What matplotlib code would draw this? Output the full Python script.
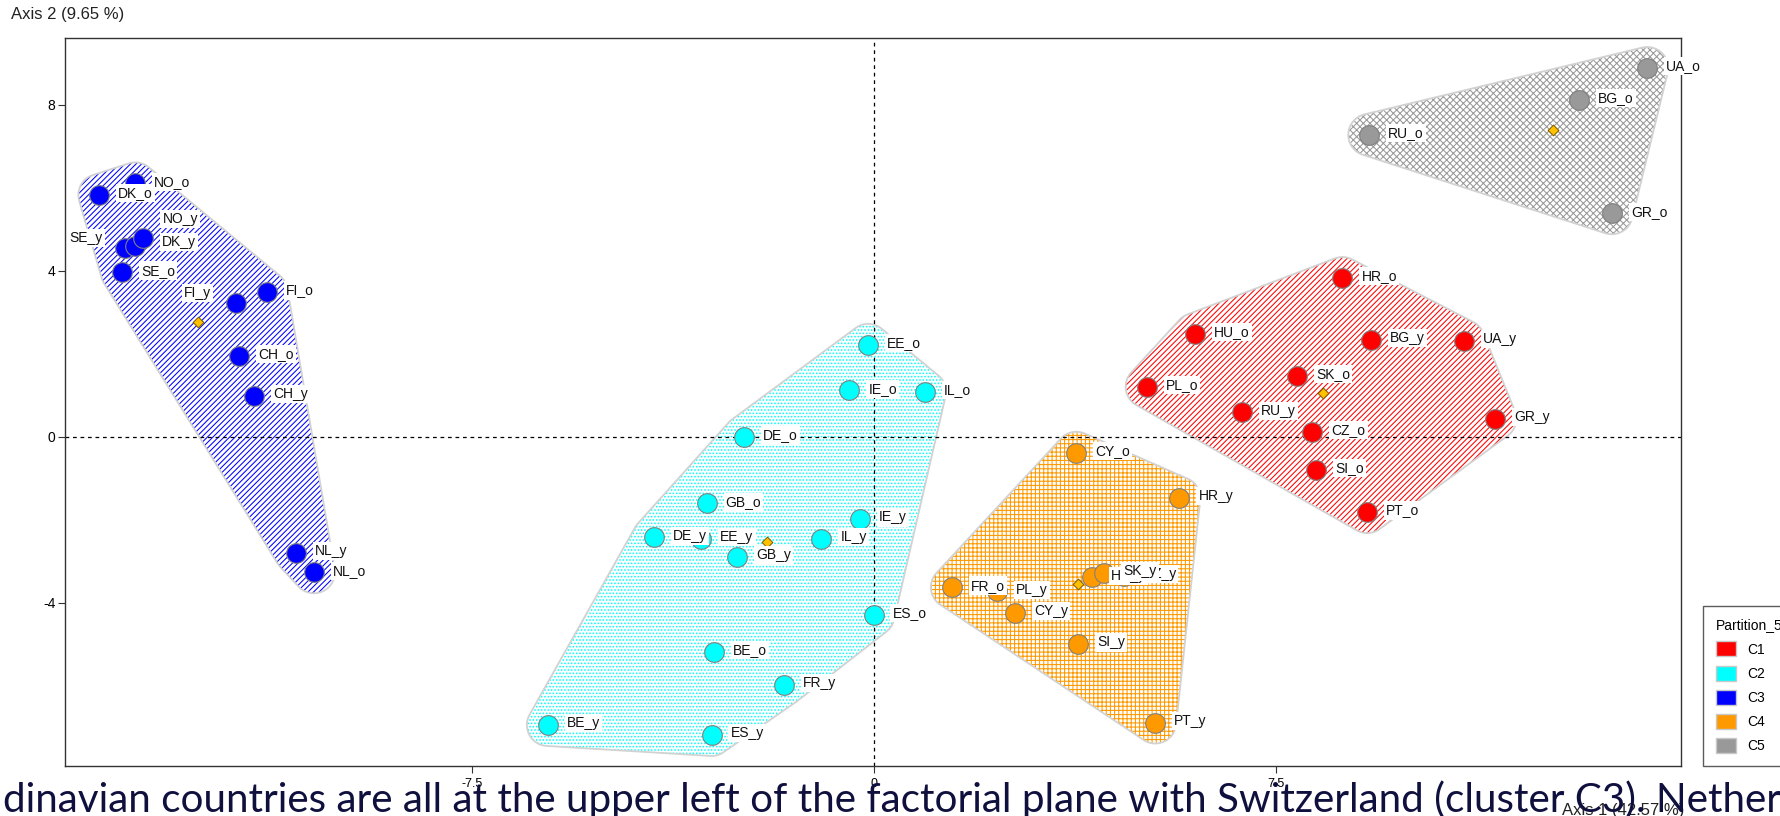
import numpy as np
import matplotlib
matplotlib.use("Agg")
import matplotlib.pyplot as plt
from matplotlib.patches import Polygon, Patch

plt.rcParams['font.family'] = ['Liberation Sans', 'DejaVu Sans']
plt.rcParams['hatch.linewidth'] = 0.75

clusters = ['C1', 'C2', 'C3', 'C4', 'C5']
colors = ['#FF0000', '#00FFFF', '#0000FF', '#FF9900', '#999999']
hatches = ['//////', '.....', '//////', '++++', 'xxxxx']

c1_names = ['HR_o', 'HU_o', 'BG_y', 'UA_y', 'SK_o', 'PL_o', 'RU_y', 'CZ_o', 'GR_y', 'SI_o', 'PT_o']
c1_x = [8.73, 5.98, 9.26, 10.99, 7.88, 5.08, 6.85, 8.17, 11.58, 8.24, 9.19]
c1_y = [3.82, 2.47, 2.33, 2.31, 1.46, 1.20, 0.58, 0.12, 0.43, -0.80, -1.82]

c2_names = ['EE_o', 'IE_o', 'IL_o', 'DE_o', 'GB_o', 'IE_y', 'DE_y', 'EE_y', 'GB_y', 'IL_y',
            'ES_o', 'BE_o', 'FR_y', 'BE_y', 'ES_y']
c2_x = [-0.11, -0.46, 0.95, -2.42, -3.12, -0.26, -4.11, -3.22, -2.56, -0.98,
        -0.01, -2.99, -1.68, -6.08, -3.03]
c2_y = [2.21, 1.11, 1.08, 0.00, -1.61, -1.99, -2.43, -2.47, -2.89, -2.46,
        -4.30, -5.18, -5.98, -6.95, -7.19]

c3_names = ['NO_o', 'DK_o', 'SE_y', 'NO_y', 'DK_y', 'SE_o', 'FI_o', 'FI_y', 'CH_o', 'CH_y', 'NL_y', 'NL_o']
c3_x = [-13.77, -14.44, -13.96, -13.78, -13.62, -14.02, -11.32, -11.90, -11.83, -11.56, -10.78, -10.44]
c3_y = [6.10, 5.82, 4.54, 4.60, 4.78, 3.96, 3.48, 3.23, 1.94, 0.98, -2.80, -3.27]

c4_names = ['CY_o', 'HR_y', 'CZ_y', 'HU_y', 'SK_y', 'FR_o', 'PL_y', 'CY_y', 'SI_y', 'PT_y']
c4_x = [3.77, 5.69, 4.66, 4.06, 4.29, 1.45, 2.29, 2.63, 3.81, 5.24]
c4_y = [-0.39, -1.48, -3.36, -3.39, -3.29, -3.63, -3.73, -4.24, -5.00, -6.89]

c5_names = ['UA_o', 'BG_o', 'RU_o', 'GR_o']
c5_x = [14.41, 13.14, 9.23, 13.75]
c5_y = [8.88, 8.11, 7.27, 5.38]

centre_x = [8.36, -2.00, -12.60, 3.81, 12.66]
centre_y = [1.06, -2.54, 2.77, -3.55, 7.39]

xticks = [-7.5, 0, 7.5]
xtick_labels = ['-7.5', '0', '7.5']
yticks = [-4, 0, 4, 8]
ytick_labels = ['-4', '0', '4', '8']

caption = ('dinavian countries are all at the upper left of the factorial plane '
           'with Switzerland (cluster C3). Nether')

groups = [(c1_names, c1_x, c1_y), (c2_names, c2_x, c2_y), (c3_names, c3_x, c3_y),
          (c4_names, c4_x, c4_y), (c5_names, c5_x, c5_y)]

# label offsets (points) where the label is not at the usual place
label_offsets = {'NO_y': (20, 19), 'SE_y': (-40, 7), 'FI_y': (-37, 7), 'DK_y': (13.7, -2.5)}
default_offset = (13.7, 1.2)

# ---- figure ----
W, H = 1780, 816
fig = plt.figure(figsize=(W / 100, H / 100), dpi=100)
ax_l, ax_r, ax_t, ax_b = 65, 1681, 37.7, 765.7
ax = fig.add_axes([ax_l / W, 1 - ax_b / H, (ax_r - ax_l) / W, (ax_b - ax_t) / H])
xlim = (-15.08, 15.04)
ylim = (-7.93, 9.61)
ax.set_xlim(*xlim)
ax.set_ylim(*ylim)

ppx = (ax_r - ax_l) / (xlim[1] - xlim[0])
ppy = (ax_b - ax_t) / (ylim[1] - ylim[0])


def cross(o, a, b):
    return (a[0] - o[0]) * (b[1] - o[1]) - (a[1] - o[1]) * (b[0] - o[0])


def padded_hull(xs, ys, r_px=21, n=48):
    t = np.linspace(0, 2 * np.pi, n, endpoint=False)
    px = (np.asarray(xs)[:, None] + r_px / ppx * np.cos(t)).ravel()
    py = (np.asarray(ys)[:, None] + r_px / ppy * np.sin(t)).ravel()
    # work in pixel units so the hull is round on screen
    pts = sorted(set(zip(px * ppx, py * ppy)))
    lower, upper = [], []
    for p in pts:
        while len(lower) >= 2 and cross(lower[-2], lower[-1], p) <= 0:
            lower.pop()
        lower.append(p)
    for p in reversed(pts):
        while len(upper) >= 2 and cross(upper[-2], upper[-1], p) <= 0:
            upper.pop()
        upper.append(p)
    hull = np.array(lower[:-1] + upper[:-1])
    return np.column_stack([hull[:, 0] / ppx, hull[:, 1] / ppy])


for (names, xs, ys), col, hat in zip(groups, colors, hatches):
    poly = padded_hull(xs, ys)
    ax.add_patch(Polygon(poly, closed=True, facecolor='white', edgecolor=col,
                         hatch=hat, linewidth=0, zorder=1))
    ax.add_patch(Polygon(poly, closed=True, facecolor='none', edgecolor='#d2d2d2',
                         linewidth=1.3, zorder=1.5))

ax.axhline(0, color='black', lw=0.9, ls=(0, (3, 3)), zorder=2)
ax.axvline(0, color='black', lw=0.9, ls=(0, (3, 3)), zorder=2)

for (names, xs, ys), col in zip(groups, colors):
    ax.scatter(xs, ys, s=200, c=col, edgecolors='#808080', linewidths=0.8, zorder=3)

ax.scatter(centre_x, centre_y, marker='D', s=30, c='#FFC000', edgecolors='#7a5a00',
           linewidths=0.7, zorder=3.5)

for names, xs, ys in groups:
    for nm, x, y in zip(names, xs, ys):
        off = label_offsets.get(nm, default_offset)
        ax.annotate(nm, (x, y), xytext=off, textcoords='offset points',
                    ha='left', va='center', fontsize=10, color='#111111',
                    bbox=dict(boxstyle='square,pad=0.15', fc='white', ec='none'),
                    annotation_clip=False, zorder=5)

ax.set_xticks(xticks)
ax.set_xticklabels(xtick_labels)
ax.set_yticks(yticks)
ax.set_yticklabels(ytick_labels)
ax.tick_params(length=5, width=0.8, color='#333333', labelsize=10, pad=2)
ax.tick_params(axis='x', pad=4, labelsize=9)
for sp in ax.spines.values():
    sp.set_color('#333333')
    sp.set_linewidth(1.0)

fig.text(11 / W, 1 - 15 / H, 'Axis 2 (9.65 %)', fontsize=12, ha='left', va='center', color='#222222')
fig.text(1562 / W, 1 - 810 / H, 'Axis 1 (42.57 %)', fontsize=12, ha='left', va='center', color='#222222')

handles = [Patch(facecolor=c, edgecolor='#c8c8c8', linewidth=1) for c in colors]
leg = fig.legend(handles, clusters, title='Partition_5', loc='lower left',
                 bbox_to_anchor=(1703 / W, (H - 766) / H), frameon=True, fancybox=False,
                 edgecolor='#333333', fontsize=10, title_fontsize=10, handlelength=1.45,
                 handleheight=1.3, labelspacing=0.65, handletextpad=0.85, borderpad=0.9,
                 borderaxespad=0, alignment='left')
leg.get_frame().set_linewidth(1.0)

cap = fig.text(3 / W, 4 / H, caption, fontsize=30, family=['Lato', 'DejaVu Sans'],
               color='#10103f', ha='left', va='baseline', zorder=10)
fig.canvas.draw()
bb = cap.get_window_extent()
cap.set_fontsize(30 * 1775 / bb.width)

fig.savefig('out.png', dpi=100)
